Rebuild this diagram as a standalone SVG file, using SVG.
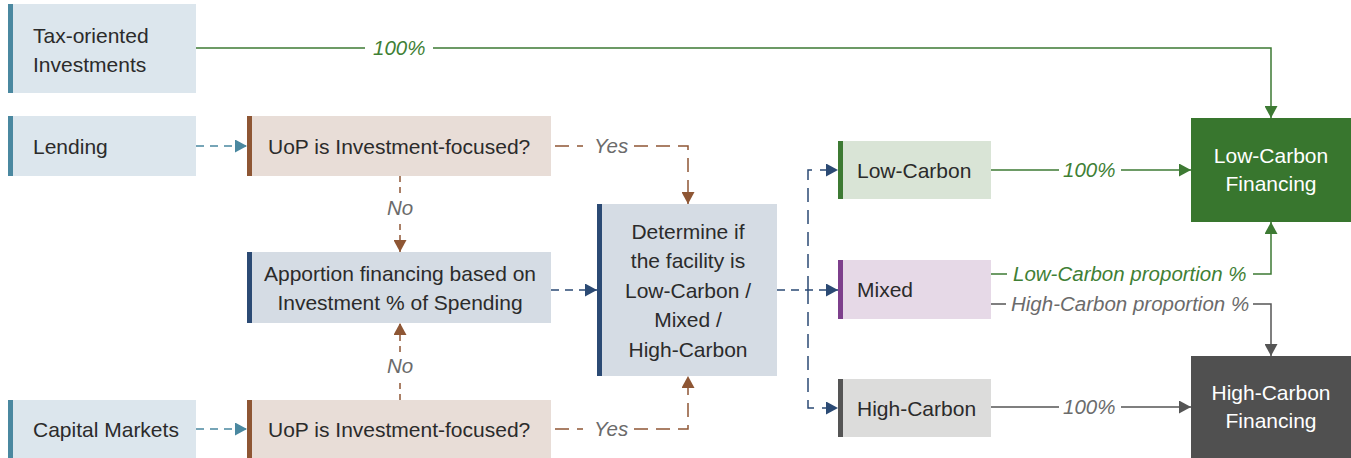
<svg xmlns="http://www.w3.org/2000/svg" width="1351" height="458" viewBox="0 0 1351 458">
<style>
.t{font-family:"Liberation Sans",Arial,sans-serif;font-size:21px;fill:#2b2b2b}
.tw{font-family:"Liberation Sans",Arial,sans-serif;font-size:21px;fill:#ffffff}
.lbl{font-family:"Liberation Sans",Arial,sans-serif;font-size:20.5px;font-style:italic}
.g{fill:#3f7f35}
.k{fill:#6b6b6b}
.c{text-anchor:middle}
.d{fill:none;stroke-width:1.5;stroke-dasharray:8 6}
.dl{fill:none;stroke-width:1.5;stroke-dasharray:14 8}
.dv{fill:none;stroke-width:1.5;stroke-dasharray:6 5}
.s{fill:none;stroke-width:1.5}
</style>
<defs>
<marker id="aTeal" markerUnits="userSpaceOnUse" markerWidth="12" markerHeight="13" refX="12" refY="6.5" orient="auto"><path d="M0,0 L12,6.5 L0,13 z" fill="#4a88a0"/></marker>
<marker id="aBrown" markerUnits="userSpaceOnUse" markerWidth="12" markerHeight="13" refX="12" refY="6.5" orient="auto"><path d="M0,0 L12,6.5 L0,13 z" fill="#8e5634"/></marker>
<marker id="aNavy" markerUnits="userSpaceOnUse" markerWidth="12" markerHeight="13" refX="12" refY="6.5" orient="auto"><path d="M0,0 L12,6.5 L0,13 z" fill="#2b4a74"/></marker>
<marker id="aGreen" markerUnits="userSpaceOnUse" markerWidth="12" markerHeight="13" refX="12" refY="6.5" orient="auto"><path d="M0,0 L12,6.5 L0,13 z" fill="#3d7a33"/></marker>
<marker id="aGray" markerUnits="userSpaceOnUse" markerWidth="12" markerHeight="13" refX="12" refY="6.5" orient="auto"><path d="M0,0 L12,6.5 L0,13 z" fill="#555555"/></marker>
</defs>

<g id="connectors">
  <path class="s" stroke="#3d7a33" d="M196,48 H365"/>
  <path class="s" stroke="#3d7a33" d="M433,48 H1271 V118" marker-end="url(#aGreen)"/>
  <text class="lbl g" x="373" y="55">100%</text>
  <path class="d" stroke="#4a88a0" d="M196,146 H247" marker-end="url(#aTeal)"/>
  <path class="d" stroke="#4a88a0" d="M196,429 H247" marker-end="url(#aTeal)"/>
  <path class="dl" stroke="#8e5634" d="M555,146 H583"/>
  <path class="dl" stroke="#8e5634" d="M634,146 H688 V204" marker-end="url(#aBrown)"/>
  <text class="lbl k" x="594" y="153">Yes</text>
  <path class="dl" stroke="#8e5634" d="M555,429 H583"/>
  <path class="dl" stroke="#8e5634" d="M634,429 H688 V376" marker-end="url(#aBrown)"/>
  <text class="lbl k" x="594" y="436">Yes</text>
  <path class="dv" stroke="#8e5634" d="M400,176 V194"/>
  <path class="dv" stroke="#8e5634" d="M400,224 V252" marker-end="url(#aBrown)"/>
  <text class="lbl k c" x="400" y="215">No</text>
  <path class="dv" stroke="#8e5634" d="M400,400 V382"/>
  <path class="dv" stroke="#8e5634" d="M400,352 V323" marker-end="url(#aBrown)"/>
  <text class="lbl k c" x="400" y="373">No</text>
  <path class="d" stroke="#2b4a74" d="M551,290 H597" marker-end="url(#aNavy)"/>
  <path class="d" stroke="#2b4a74" d="M777,290 H838" marker-end="url(#aNavy)"/>
  <path class="dl" stroke="#2b4a74" d="M808,290 V170 H838" marker-end="url(#aNavy)"/>
  <path class="dl" stroke="#2b4a74" d="M808,290 V408 H838" marker-end="url(#aNavy)"/>
  <path class="s" stroke="#3d7a33" d="M991,170 H1059"/>
  <path class="s" stroke="#3d7a33" d="M1121,170 H1191" marker-end="url(#aGreen)"/>
  <text class="lbl g" x="1063" y="177">100%</text>
  <path class="s" stroke="#555555" d="M991,407 H1059"/>
  <path class="s" stroke="#555555" d="M1121,407 H1191" marker-end="url(#aGray)"/>
  <text class="lbl k" x="1063" y="414">100%</text>
  <path class="s" stroke="#3d7a33" d="M991,274 H1007"/>
  <path class="s" stroke="#3d7a33" d="M1253,274 H1271 V222" marker-end="url(#aGreen)"/>
  <text class="lbl g" x="1013" y="281">Low-Carbon proportion %</text>
  <path class="s" stroke="#555555" d="M991,304 H1006"/>
  <path class="s" stroke="#555555" d="M1253,304 H1271 V356" marker-end="url(#aGray)"/>
  <text class="lbl k" x="1011" y="311">High-Carbon proportion %</text>
</g>

<g id="tax">
  <rect x="8" y="4" width="188" height="89" fill="#dce6ed"/>
  <rect x="8" y="4" width="5" height="89" fill="#4a88a0"/>
  <text class="t" x="33" y="43">Tax-oriented</text>
  <text class="t" x="33" y="72">Investments</text>
</g>
<g id="lending">
  <rect x="8" y="116" width="188" height="60" fill="#dce6ed"/>
  <rect x="8" y="116" width="5" height="60" fill="#4a88a0"/>
  <text class="t" x="33" y="153.5">Lending</text>
</g>
<g id="capital">
  <rect x="8" y="400" width="188" height="58" fill="#dce6ed"/>
  <rect x="8" y="400" width="5" height="58" fill="#4a88a0"/>
  <text class="t" x="33" y="436.5">Capital Markets</text>
</g>
<g id="uop-top">
  <rect x="247" y="116" width="304" height="60" fill="#e8ddd7"/>
  <rect x="247" y="116" width="5" height="60" fill="#8e5634"/>
  <text class="t" x="268" y="153.5">UoP is Investment-focused?</text>
</g>
<g id="uop-bottom">
  <rect x="247" y="400" width="304" height="58" fill="#e8ddd7"/>
  <rect x="247" y="400" width="5" height="58" fill="#8e5634"/>
  <text class="t" x="268" y="436.5">UoP is Investment-focused?</text>
</g>
<g id="apportion">
  <rect x="247" y="252" width="304" height="71" fill="#d5dce4"/>
  <rect x="247" y="252" width="5" height="71" fill="#2b4a74"/>
  <text class="t c" x="400" y="281">Apportion financing based on</text>
  <text class="t c" x="400" y="310">Investment % of Spending</text>
</g>
<g id="determine">
  <rect x="597" y="204" width="180" height="172" fill="#d5dce4"/>
  <rect x="597" y="204" width="5" height="172" fill="#2b4a74"/>
  <text class="t c" x="688" y="238.5">Determine if</text>
  <text class="t c" x="688" y="268">the facility is</text>
  <text class="t c" x="688" y="297.5">Low-Carbon /</text>
  <text class="t c" x="688" y="327">Mixed /</text>
  <text class="t c" x="688" y="356.5">High-Carbon</text>
</g>
<g id="low-carbon">
  <rect x="838" y="141" width="153" height="58" fill="#d9e4d6"/>
  <rect x="838" y="141" width="5" height="58" fill="#3d7a33"/>
  <text class="t" x="857" y="177.5">Low-Carbon</text>
</g>
<g id="mixed">
  <rect x="838" y="260" width="153" height="59" fill="#e6d9e7"/>
  <rect x="838" y="260" width="5" height="59" fill="#7d3f8c"/>
  <text class="t" x="857" y="297">Mixed</text>
</g>
<g id="high-carbon">
  <rect x="838" y="379" width="153" height="58" fill="#dcdcdb"/>
  <rect x="838" y="379" width="5" height="58" fill="#555555"/>
  <text class="t" x="857" y="415.5">High-Carbon</text>
</g>
<g id="low-carbon-financing">
  <rect x="1191" y="118" width="160" height="104" fill="#38762e"/>
  <text class="tw c" x="1271" y="163">Low-Carbon</text>
  <text class="tw c" x="1271" y="191">Financing</text>
</g>
<g id="high-carbon-financing">
  <rect x="1191" y="356" width="160" height="102" fill="#505050"/>
  <text class="tw c" x="1271" y="400">High-Carbon</text>
  <text class="tw c" x="1271" y="428">Financing</text>
</g>
</svg>
